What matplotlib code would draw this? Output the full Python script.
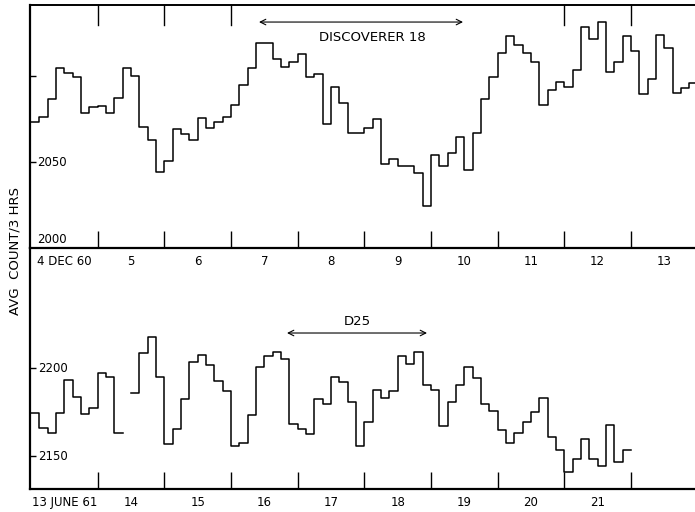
import numpy as np
import matplotlib
matplotlib.use("Agg")
import matplotlib.pyplot as plt
import matplotlib.transforms as mtransforms

# 3-hour averages, 8 per day
dec_counts = [
    2073.4, 2076.0, 2086.6, 2104.8, 2101.6, 2099.6, 2078.7, 2082.2,
    2082.7, 2078.7, 2087.4, 2104.5, 2100.0, 2070.2, 2062.8, 2044.4,
    2050.6, 2069.0, 2066.3, 2062.8, 2075.4, 2069.6, 2073.4, 2076.0,
    2083.3, 2094.8, 2104.5, 2119.4, 2119.4, 2109.9, 2105.1, 2108.3,
    2112.8, 2099.2, 2101.2, 2072.1, 2093.8, 2084.1, 2067.0, 2067.0,
    2069.9, 2074.8, 2048.7, 2051.9, 2047.7, 2047.7, 2043.8, 2024.6,
    2053.9, 2047.7, 2055.4, 2064.7, 2045.1, 2067.0, 2086.6, 2099.2,
    2113.5, 2123.3, 2118.0, 2113.2, 2108.1, 2083.1, 2091.9, 2096.7,
    2093.8, 2103.5, 2128.7, 2121.3, 2131.6, 2102.5, 2108.3, 2123.3,
    2114.7, 2089.4, 2098.1, 2123.8, 2116.5, 2089.9, 2092.8, 2095.8,
]
june_counts = [
    2174.6, 2166.1, 2163.2, 2174.6, 2193.2, 2183.7, 2173.7, 2177.4,
    2197.0, 2195.1, 2163.2, np.nan, 2186.0, 2208.4, 2217.4, 2195.1,
    2156.8, 2165.3, 2182.6, 2203.6, 2207.6, 2201.7, 2192.8, 2186.9,
    2155.7, 2157.6, 2173.5, 2200.4, 2206.8, 2209.1, 2205.1, 2168.0,
    2165.2, 2162.5, 2182.6, 2179.5, 2194.7, 2192.2, 2180.9, 2155.7,
    2169.3, 2187.5, 2182.8, 2186.8, 2207.0, 2202.1, 2209.3, 2190.3,
    2187.5, 2167.2, 2180.7, 2190.5, 2200.7, 2194.5, 2179.5, 2175.6,
    2164.8, 2157.6, 2163.2, 2169.5, 2174.8, 2183.1, 2161.0, 2153.4,
    2140.9, 2148.1, 2159.5, 2148.1, 2144.3, 2167.8, 2146.6, 2153.4,
]
dec_labels = ["4 DEC 60", "5", "6", "7", "8", "9", "10", "11", "12", "13"]
june_labels = ["13 JUNE 61", "14", "15", "16", "17", "18", "19", "20", "21"]
dec_pass = (3.42, 6.48)    # Discoverer 18, days after 4 Dec 00h
june_pass = (3.84, 5.94)   # D25, days after 13 June 00h

plt.rcParams['font.family'] = ['DejaVu Sans']
fig = plt.figure(figsize=(6.95, 5.12), dpi=100)

xmax = 9.96
ax1 = fig.add_axes([0.0432, 0.5156, 0.9568, 0.4746])
ax2 = fig.add_axes([0.0432, 0.0449, 0.9568, 0.4707])
ax2.patch.set_visible(False)


def draw_steps(ax, counts):
    vals = np.asarray(counts, dtype=float)
    edges = np.arange(len(vals) + 1) / 8.0
    ax.plot(edges, np.append(vals, vals[-1]), drawstyle="steps-post",
            color="black", lw=1.1)


draw_steps(ax1, dec_counts)
draw_steps(ax2, june_counts)

ax1.set_xlim(-0.015, xmax)
ax2.set_xlim(-0.015, xmax)
ax1.set_ylim(2000, 2141.3)
ax2.set_ylim(2131.25, 2268.2)

for ax, labels in ((ax1, dec_labels), (ax2, june_labels)):
    ax.spines['right'].set_visible(False)
    ax.spines['left'].set_linewidth(1.6)
    ax.spines['bottom'].set_linewidth(1.6)
    ax.set_xticks(np.arange(len(labels)) + 0.5, labels)
    ax.set_xticks(np.arange(1, 10), minor=True)
    ax.tick_params(axis='x', which='major', length=0, pad=5, labelsize=8.5)
    ax.tick_params(axis='x', which='minor', direction='in', length=12,
                   width=1.0, bottom=True, top=False)
    ax.tick_params(axis='y', direction='in', length=4, width=1.0,
                   labelleft=False)

ax1.spines['top'].set_linewidth(1.4)
ax2.spines['top'].set_visible(False)

ax1.set_yticks([2050, 2100])
ax2.set_yticks([2150, 2200])

# the top border carries ticks only at some day boundaries
top_ticks = [1, 2, 3, 8, 9]
for d in top_ticks:
    ax1.plot([d, d], [2141.3, 2141.3 - 11.5], color="black", lw=1.0,
             clip_on=False)

tr1 = mtransforms.blended_transform_factory(ax1.transAxes, ax1.transData)
tr2 = mtransforms.blended_transform_factory(ax2.transAxes, ax2.transData)
ax1.text(0.011, 2050, "2050", transform=tr1, ha="left", va="center",
         fontsize=8.5)
ax1.text(0.011, 2004.8, "2000", transform=tr1, ha="left", va="center",
         fontsize=8.5)
ax2.text(0.012, 2200, "2200", transform=tr2, ha="left", va="center",
         fontsize=8.5)
ax2.text(0.012, 2150, "2150", transform=tr2, ha="left", va="center",
         fontsize=8.5)

ax1.annotate("", xy=(dec_pass[0], 2131.4), xytext=(dec_pass[1], 2131.4),
             arrowprops=dict(arrowstyle="<->", lw=0.8, color="black",
                             shrinkA=0, shrinkB=0))
ax1.text(5.12, 2122.7, "DISCOVERER 18", ha="center", va="center",
         fontsize=9.5)
ax2.annotate("", xy=(june_pass[0], 2219.9), xytext=(june_pass[1], 2219.9),
             arrowprops=dict(arrowstyle="<->", lw=0.8, color="black",
                             shrinkA=0, shrinkB=0))
ax2.text(4.89, 2226.3, "D25", ha="center", va="center", fontsize=9.5)

fig.text(0.021, 0.51, "AVG  COUNT/3 HRS", rotation=90, ha="center",
         va="center", fontsize=9.5)

fig.savefig("out.png", dpi=100)
